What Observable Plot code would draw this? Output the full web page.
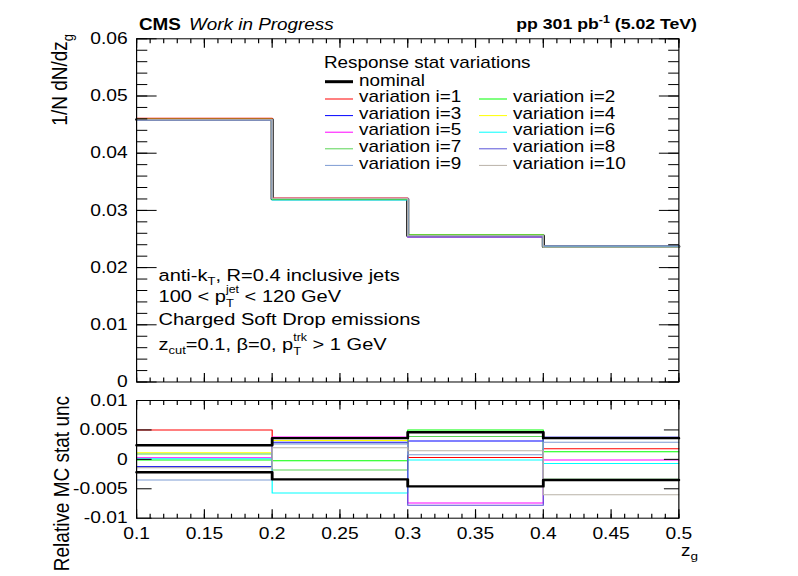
<!DOCTYPE html>
<html><head><meta charset="utf-8">
<script src="https://cdn.jsdelivr.net/npm/d3@7"></script>
<script src="https://cdn.jsdelivr.net/npm/@observablehq/plot@0.6"></script>
<style>
html,body{margin:0;padding:0;background:#fff;overflow:hidden;width:798px;height:576px;}
#wrap{position:absolute;left:0;top:0;height:576px;transform-origin:0 0;font-family:'Liberation Sans',Arial,Helvetica,sans-serif;}
#wrap > div{position:absolute;left:0;}
#wrap svg{display:block;}
text{white-space:pre;}
</style></head><body><div id="wrap"></div>
<script>
// ---- data ----
const binEdges = [0.1, 0.2, 0.3, 0.4, 0.5];
const nominal = [0.0459, 0.0320, 0.02555, 0.0237];
const nominalUp = [0.0024, 0.0036, 0.0046, 0.0036];
const nominalDown = [-0.0022, -0.0034, -0.0046, -0.0035];
const var1 = [0.0050, 0.0036, 0.0003, 0.0018];
const var2 = [-0.0001, -0.00025, 0.0050, 0.0013];
const var3 = [-0.0012, 0.0029, 0.0031, 0.0037];
const var4 = [0.0011, 0.0032, 0.0046, 0.0036];
const var5 = [0.00026, 0.0038, -0.0074, -0.0001];
const var6 = [0.0001, -0.0057, -0.0001, -0.0007];
const var7 = [0.0009, -0.0018, 0.0039, -0.0034];
const var8 = [-0.0013, 0.0028, -0.0078, 0.0038];
const var9 = [-0.0035, 0.0026, 0.0008, 0.0029];
const var10 = [-0.00144, 0.00196, 0.00145, -0.0060];
const seriesNames = ["variation i=1","variation i=2","variation i=3","variation i=4","variation i=5",
  "variation i=6","variation i=7","variation i=8","variation i=9","variation i=10"];
const seriesColors = ["#ff0000","#00ff00","#0000ff","#ffff00","#ff00ff","#00ffff","#59d454","#5954d8","#7d9bd3","#b9b2a8"];
const seriesValues = [var1,var2,var3,var4,var5,var6,var7,var8,var9,var10];
const xMajorTicks = [0.1, 0.15, 0.2, 0.25, 0.3, 0.35, 0.4, 0.45, 0.5];
const xMinorTicks = d3.range(10, 51).map(d => d / 100);
const yTopMajor = [0, 0.01, 0.02, 0.03, 0.04, 0.05, 0.06];
const yTopMinor = d3.range(0, 31).map(d => d * 0.002);
const yBotMajor = [-0.01, -0.005, 0, 0.005, 0.01];

// ---- layout ----
const S = 1.18;             // horizontal stretch of the picture
const W = 798 / S;
const FL = 136, FR = 678.3;  // frame left/right (picture px)
const mL = FL / S, mR = (798 - FR) / S;
const fmt = d => String(Math.round(d * 1000) / 1000);
const font = "'Liberation Sans', Arial, Helvetica, sans-serif";

const wrap = d3.select("#wrap").style("width", W + "px").style("transform", `scaleX(${S})`);

function steps(vals, f, name) {
  return binEdges.map((e, i) => ({x: e, y: f(vals[Math.min(i, vals.length - 1)], Math.min(i, vals.length - 1)), s: name}));
}
const topNom = steps(nominal, v => v, "nominal");
const topVar = seriesValues.flatMap((vals, k) => steps(vals, (r, i) => nominal[i] * (1 + r), seriesNames[k]));
const botUp = steps(nominalUp, v => v, "up");
const botDown = steps(nominalDown, v => v, "down");
const botVar = seriesValues.flatMap((vals, k) => steps(vals, r => r, seriesNames[k]));

const style = {fontFamily: font, fontSize: "16.3px", color: "black", background: "transparent", overflow: "visible"};
const xDomain = [0.1, 0.5];

// ---- top panel ----
const topH = 392, topMT = 38.3, topMB = 10.5;
const topPlot = Plot.plot({
  width: W, height: topH, marginTop: topMT, marginBottom: topMB, marginLeft: mL, marginRight: mR,
  style,
  x: {domain: xDomain, axis: null},
  y: {domain: [0, 0.06], label: null},
  color: {domain: seriesNames, range: seriesColors},
  marks: [
    Plot.line(topNom, {x: "x", y: "y", curve: "step-after", stroke: "black", strokeWidth: 2.6}),
    Plot.line(topVar, {x: "x", y: "y", z: "s", stroke: "s", curve: "step-after", strokeWidth: 1}),
    Plot.frame({stroke: "black", strokeWidth: 1}),
    Plot.axisY({ticks: yTopMajor, tickSize: 0, tickPadding: 9 / S, tickFormat: fmt, label: null})
  ]
});
wrap.append("div").style("top", "0px").node().appendChild(topPlot);

// ---- bottom panel ----
const botH = 184, botMT = 8, botMB = 58.3;
const botPlot = Plot.plot({
  width: W, height: botH, marginTop: botMT, marginBottom: botMB, marginLeft: mL, marginRight: mR,
  style,
  x: {domain: xDomain, label: null},
  y: {domain: [-0.01, 0.01], label: null},
  color: {domain: seriesNames, range: seriesColors},
  marks: [
    Plot.line(botVar, {x: "x", y: "y", z: "s", stroke: "s", curve: "step-after", strokeWidth: 1}),
    Plot.line(botUp, {x: "x", y: "y", curve: "step-after", stroke: "black", strokeWidth: 2.4}),
    Plot.line(botDown, {x: "x", y: "y", curve: "step-after", stroke: "black", strokeWidth: 2.4}),
    Plot.frame({stroke: "black", strokeWidth: 1}),
    Plot.axisY({ticks: yBotMajor, tickSize: 0, tickPadding: 9 / S, tickFormat: fmt, label: null}),
    Plot.axisX({ticks: xMajorTicks, tickSize: 0, tickPadding: 9, tickFormat: fmt, label: null})
  ]
});
wrap.append("div").style("top", topH + "px").node().appendChild(botPlot);

// ---- overlay layer: ROOT-style inward ticks (positioned with the plots' own scales) and texts ----
const ov = wrap.append("div").style("top", "0px").append("svg")
  .attr("width", W).attr("height", 576)
  .style("font-family", font).style("pointer-events", "none");

function drawTicks(plot, yOff, yMajor, yMinor, yMajLen, yMinLen) {
  const sx = plot.scale("x"), sy = plot.scale("y");
  const xa = sx.apply(sx.domain[0]), xb = sx.apply(sx.domain[1]);
  const ya = sy.apply(sy.domain[0]), yb = sy.apply(sy.domain[1]);
  const g = ov.append("g").attr("stroke", "black").attr("stroke-width", 1)
    .attr("transform", `translate(0.5,${yOff + 0.5})`);
  const seg = (x1, y1, x2, y2) => g.append("line").attr("x1", x1).attr("y1", y1).attr("x2", x2).attr("y2", y2);
  const addY = (arr, len) => arr.forEach(v => {
    const y = sy.apply(v);
    seg(xa, y, xa + len / S, y);
    seg(xb - len / S, y, xb, y);
  });
  addY(yMajor, yMajLen);
  if (yMinor) addY(yMinor, yMinLen);
  const addX = (arr, len) => arr.forEach(v => {
    const x = sx.apply(v);
    seg(x, ya, x, ya - len);
    seg(x, yb, x, yb + len);
  });
  addX(xMajorTicks, 9);
  addX(xMinorTicks, 4.5);
}
drawTicks(topPlot, 0, yTopMajor, yTopMinor, 20, 10.7);
drawTicks(botPlot, topH, yBotMajor, null, 15, 0);

function addText(x, y, segs, attrs = {}) {
  const t = ov.append("text").attr("x", x).attr("y", y);
  for (const k in attrs) t.attr(k, attrs[k]);
  for (const s of segs) {
    if (typeof s === "string") t.append("tspan").text(s);
    else {
      const ts = t.append("tspan").text(s.t);
      if (s.dy) ts.attr("dy", s.dy);
      if (s.dx) ts.attr("dx", s.dx);
      if (s.fs) ts.attr("font-size", s.fs);
    }
  }
  return t;
}

// header
addText(139 / S, 30, ["CMS"], {"font-size": 16, "font-weight": "bold"});
addText(189 / S, 30, ["Work in Progress"], {"font-size": 16, "font-style": "italic"});
addText(697 / S, 29.5, ["pp 301 pb", {t: "-1", dy: -6.5, fs: 10.5}, {t: " (5.02 TeV)", dy: 6.5}],
  {"font-size": 15, "font-weight": "bold", "text-anchor": "end"});

// axis titles
addText(0, 0, ["1/N dN/dz", {t: "g", dy: 5, fs: 13}],
  {"font-size": 19, "text-anchor": "end", transform: `translate(${67 / S},34) rotate(-90)`});
addText(0, 0, ["Relative MC stat unc"],
  {"font-size": 19, "text-anchor": "end", transform: `translate(${69 / S},396) rotate(-90)`});
addText(698 / S, 556, ["z", {t: "g", dy: 4, fs: 11.5}], {"font-size": 16, "text-anchor": "end"});

// legend
addText(324 / S, 68.3, ["Response stat variations"], {"font-size": 16});
ov.append("line").attr("x1", 325 / S).attr("x2", 353 / S).attr("y1", 81.7).attr("y2", 81.7)
  .attr("stroke", "black").attr("stroke-width", 3);
addText(359 / S, 85.7, ["nominal"], {"font-size": 16});
seriesNames.forEach((name, k) => {
  const col = k % 2, row = Math.floor(k / 2);
  const base = 102.3 + row * 16.6;
  const lx = col ? 479 : 325, tx = col ? 513 : 359;
  ov.append("line").attr("x1", lx / S).attr("x2", (lx + 28) / S).attr("y1", base - 3.3).attr("y2", base - 3.3)
    .attr("stroke", seriesColors[k]).attr("stroke-width", 1);
  addText(tx / S, base, [name], {"font-size": 16});
});

// annotation
const ax = 158.5 / S;
addText(ax, 280.7, ["anti-k", {t: "T", dy: 4, fs: 11}, {t: ", R=0.4 inclusive jets", dy: -4}], {"font-size": 17});
addText(ax, 302, ["100 < p", {t: "T", dy: 5, fs: 11}, {t: "jet", dx: -6.7, dy: -13.5, fs: 10.5}, {t: " < 120 GeV", dy: 8.5}], {"font-size": 17});
addText(ax, 325, ["Charged Soft Drop emissions"], {"font-size": 17});
addText(ax, 350, ["z", {t: "cut", dy: 4, fs: 11}, {t: "=0.1, β=0, p", dy: -4}, {t: "T", dy: 5, fs: 11}, {t: "trk", dx: -6.7, dy: -13.5, fs: 10.5}, {t: " > 1 GeV", dy: 8.5}], {"font-size": 17});
</script>
</body></html>
